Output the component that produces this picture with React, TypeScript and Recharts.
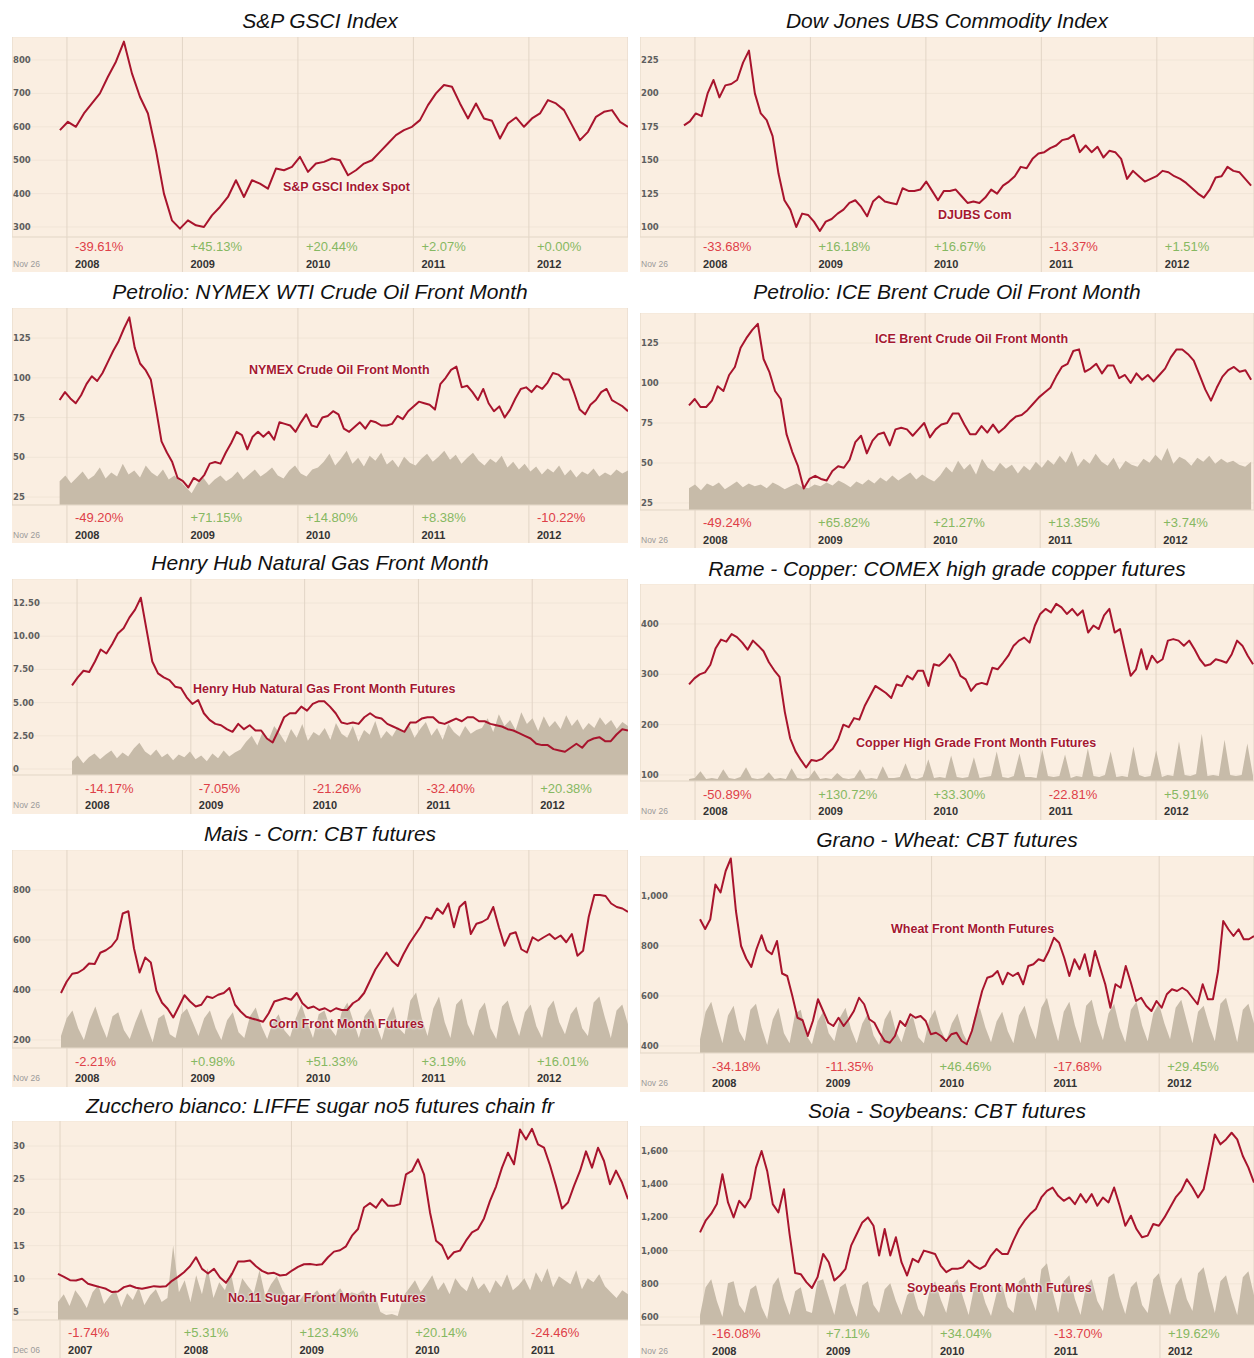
import React from 'react';
import { ComposedChart, Line, Area, XAxis, YAxis, CartesianGrid } from 'recharts';

// ---------- DATA ----------
const years0812 = ['2008', '2009', '2010', '2011', '2012'];
const years0711 = ['2007', '2008', '2009', '2010', '2011'];
const yearTicks = [0, 12, 24, 36, 48];

const gsciLine = [590,615,600,640,670,700,750,795,855,760,690,640,530,400,320,295,320,305,300,335,360,390,440,390,440,430,415,475,470,480,510,465,490,495,505,500,455,470,490,500,525,550,575,590,600,620,665,700,725,720,670,625,670,625,618,565,610,628,600,625,640,680,670,650,605,560,585,630,645,650,615,600];
const gsciChange = ['-39.61%', '+45.13%', '+20.44%', '+2.07%', '+0.00%'];

const djubsLine = [176,179,185,183,200,210,197,206,207,210,223,232,200,185,180,168,140,120,113,100,110,109,104,97,104,106,110,113,118,120,115,108,119,123,119,118,117,129,127,127,128,134,127,120,127,127,128,123,118,119,118,122,128,125,131,134,138,145,144,151,155,156,159,161,165,166,169,156,161,156,160,152,157,156,151,136,142,138,134,136,138,142,141,138,136,133,129,125,122,128,137,138,145,142,141,136,131];
const djubsChange = ['-33.68%', '+16.18%', '+16.67%', '-13.37%', '+1.51%'];

const wtiLine = [86,91,87,84,89,96,101,98,103,110,117,123,131,138,119,109,105,99,80,60,53,47,37,35,31,37,35,39,46,47,46,53,59,66,64,55,63,66,63,66,61,72,71,70,66,72,77,70,69,75,76,79,77,68,66,69,72,68,73,72,70,70,71,76,74,79,82,85,84,83,80,96,100,105,107,94,95,91,86,93,84,79,82,75,80,87,93,94,91,95,93,97,103,102,99,99,90,80,77,83,86,91,93,86,84,82,79];
const wtiVolume = [24,30,22,28,34,26,30,38,27,33,29,42,31,35,28,40,33,29,36,26,30,24,18,12,22,28,20,26,30,24,28,34,26,31,36,29,33,38,30,27,35,40,32,29,36,38,44,52,40,47,55,42,48,39,50,45,53,41,46,38,49,43,40,47,52,44,49,55,46,51,42,48,53,45,40,47,43,50,38,44,36,42,34,39,31,37,33,40,30,36,28,34,31,37,29,33,30,36,32,35];
const wtiChange = ['-49.20%', '+71.15%', '+14.80%', '+8.38%', '-10.22%'];

const brentLine = [86,90,85,85,89,98,95,105,110,122,128,133,137,115,107,95,90,68,57,48,34,40,42,40,39,45,48,47,52,63,67,56,64,68,69,61,71,72,71,67,71,75,66,71,74,75,81,81,74,68,68,73,69,74,69,72,76,79,80,83,87,91,94,97,104,110,112,120,121,107,109,112,106,111,111,103,105,100,106,102,105,101,105,109,116,121,121,118,114,105,96,89,97,104,108,110,107,108,102];
const brentVolume = [22,26,20,27,24,28,21,25,29,23,27,24,26,22,28,25,21,24,27,23,22,26,24,28,25,30,27,23,29,26,31,27,33,29,35,30,34,38,31,36,32,29,35,44,38,50,41,47,36,52,43,39,48,42,46,37,45,40,49,43,51,46,55,48,60,44,52,47,57,49,45,53,41,50,46,44,52,48,56,50,63,47,54,51,45,53,49,55,47,52,48,50,46,44,49];
const brentChange = ['-49.24%', '+65.82%', '+21.27%', '+13.35%', '+3.74%'];

const gasLine = [6.3,6.9,7.4,7.3,8.1,9.0,8.7,9.4,10.2,10.6,11.4,12.0,12.9,10.5,8.1,7.2,6.9,6.7,6.2,6.1,5.4,4.9,5.2,4.2,3.7,3.4,3.3,3.0,2.8,3.4,3.0,3.3,2.9,2.9,2.3,2.0,2.9,3.9,4.2,4.2,4.7,4.4,4.9,5.1,5.1,4.7,4.2,3.5,3.4,3.5,3.4,3.9,4.2,3.9,3.8,3.4,3.2,3.0,2.8,3.5,3.5,3.8,3.9,3.9,3.5,3.4,3.6,3.8,3.6,3.9,3.9,3.6,3.6,3.4,3.3,3.2,3.0,2.9,2.7,2.5,2.3,1.9,1.8,1.8,1.5,1.4,1.3,1.6,1.9,1.6,2.1,2.3,2.4,2.1,2.1,2.6,3.0,2.9];
const gasVolume = [14,20,12,18,22,16,21,25,17,23,19,27,33,24,20,26,18,22,15,21,18,24,16,20,14,22,17,25,19,23,26,34,40,30,45,36,50,42,33,47,38,52,35,44,40,48,36,53,42,38,50,34,46,41,55,37,45,39,49,43,51,38,47,54,40,48,36,52,44,39,50,42,46,48,58,44,62,50,56,46,64,52,58,45,60,49,55,47,61,50,57,46,53,48,59,51,56,47,54,50];
const gasChange = ['-14.17%', '-7.05%', '-21.26%', '-32.40%', '+20.38%'];

const copperLine = [280,292,300,304,319,352,369,365,380,374,363,349,367,357,346,324,308,295,225,173,147,130,115,130,128,132,143,152,170,200,195,213,210,237,257,277,270,263,253,280,277,297,290,307,307,277,320,317,327,340,323,297,290,267,280,283,280,313,310,323,337,357,367,373,363,397,420,430,423,440,433,420,430,417,427,383,397,390,417,430,383,390,343,297,310,350,310,337,323,330,367,370,367,357,367,350,330,317,320,330,327,323,340,367,357,337,320];
const copperVolume = [2,3,10,2,3,2,12,3,2,4,14,3,2,3,9,2,3,2,13,3,2,3,11,2,3,2,8,3,2,3,12,2,3,2,15,3,3,4,18,3,2,4,22,3,4,3,26,4,3,4,24,3,4,5,30,4,3,5,28,4,4,3,32,5,4,5,27,3,5,4,33,5,4,6,30,4,5,4,35,6,4,5,31,4,6,5,40,6,5,7,48,5,6,5,42,6,5,6,38,5];
const copperChange = ['-50.89%', '+130.72%', '+33.30%', '-22.81%', '+5.91%'];

const cornLine = [388,433,465,469,483,506,504,549,559,575,604,706,715,567,470,530,510,397,349,325,290,334,379,354,334,341,374,368,381,388,408,341,314,293,286,280,273,307,354,361,368,361,388,347,327,334,320,327,314,327,320,320,347,361,388,435,482,516,550,516,496,543,584,618,651,692,685,726,705,746,651,732,753,624,665,672,685,732,651,577,624,631,563,550,611,597,611,624,604,618,591,624,537,557,692,780,780,776,746,732,726,712];
const cornVolume = [12,30,38,20,8,28,42,24,10,32,36,18,9,26,40,22,6,30,34,14,10,34,40,26,12,30,38,20,8,28,36,16,10,32,41,22,9,26,34,18,11,30,44,26,10,34,38,20,12,36,46,28,10,32,40,24,8,30,42,20,14,48,56,30,12,40,52,26,10,44,50,24,12,38,46,20,9,42,48,28,12,36,44,22,10,40,48,26,14,34,42,20,12,46,52,30,10,38,44,24];
const cornChange = ['-2.21%', '+0.98%', '+51.33%', '+3.19%', '+16.01%'];

const wheatLine = [907,868,907,1046,1014,1100,1150,940,800,750,716,787,843,783,767,820,690,680,600,513,503,440,500,587,540,493,480,513,480,507,540,593,567,507,493,453,420,413,440,500,480,527,513,520,500,447,453,440,420,447,453,420,407,460,540,620,673,680,700,647,693,680,693,647,720,727,747,740,780,833,813,753,680,747,707,767,680,780,713,647,553,647,633,720,653,580,593,560,540,580,553,607,627,620,633,620,593,567,647,587,587,700,900,867,840,867,827,827,840];
const wheatVolume = [14,42,52,30,10,38,48,22,12,44,50,26,8,34,46,20,10,40,44,18,9,32,42,20,12,36,46,24,10,30,40,18,8,34,44,22,11,30,38,16,10,34,44,24,12,30,40,20,9,36,46,26,11,32,42,22,10,38,48,28,14,46,56,32,12,42,52,28,10,48,54,30,13,40,50,26,11,44,52,28,12,40,50,30,14,46,54,32,10,42,48,28,12,50,56,34,11,44,50,30];
const wheatChange = ['-34.18%', '-11.35%', '+46.46%', '-17.68%', '+29.45%'];

const sugarLine = [10.75,10.3,9.8,9.75,10.0,9.25,9.0,8.75,8.5,8.0,8.1,8.75,9.0,8.65,8.5,8.7,8.9,8.8,8.9,9.7,10.3,11.0,11.9,13.25,11.5,10.8,11.5,10.2,9.4,10.75,12.6,12.6,12.75,11.9,11.2,10.8,10.9,10.5,10.6,11.25,11.8,12.2,12.25,12.1,12.2,13.25,14.1,14.3,14.9,16.5,17.5,20.75,21.4,20.7,22.0,21.0,21.0,21.25,25.75,26.25,28.0,25.75,20.0,15.75,15.0,13.0,14.0,14.25,15.75,17.0,17.5,19.1,21.75,23.9,26.75,29.0,27.25,32.5,31.0,32.6,30.25,29.75,27.1,24.0,20.6,21.5,24.0,26.25,29.2,26.75,29.75,27.75,24.25,26.3,24.5,22.0];
const sugarVolume = [18,26,14,30,22,12,28,35,16,24,30,13,27,20,33,15,25,31,18,22,75,28,40,18,45,26,52,22,38,30,48,20,42,34,27,50,24,36,44,30,22,26,20,28,24,30,21,27,25,32,23,28,26,30,22,27,8,5,6,4,24,32,40,28,36,45,30,38,26,42,34,29,44,31,37,27,40,33,46,30,35,42,30,48,38,52,33,44,40,36,50,31,42,38,46,34,28,22,30,26];
const sugarChange = ['-1.74%', '+5.31%', '+123.43%', '+20.14%', '-24.46%'];

const soyLine = [1110,1180,1222,1280,1460,1290,1200,1300,1260,1316,1500,1600,1480,1280,1230,1370,1100,865,858,810,775,840,980,930,820,850,890,1030,1100,1170,1200,1150,970,1130,970,1080,930,850,950,930,1000,990,980,910,870,890,890,900,940,910,890,910,970,1010,980,980,1060,1130,1180,1220,1250,1320,1360,1380,1330,1300,1320,1280,1340,1290,1340,1270,1320,1290,1380,1270,1150,1210,1130,1080,1090,1160,1150,1200,1260,1320,1360,1430,1380,1320,1370,1530,1700,1640,1670,1710,1670,1570,1500,1410];
const soyVolume = [10,38,46,24,8,42,44,20,12,36,40,18,6,40,48,26,10,34,38,14,12,44,46,28,10,38,42,22,8,40,44,20,12,36,42,24,10,30,36,16,8,34,44,26,12,40,46,28,10,38,42,22,9,32,40,18,12,44,48,30,14,56,62,34,12,44,50,26,10,40,46,24,14,48,52,28,11,38,44,20,12,46,52,30,10,40,48,26,14,52,58,34,12,44,50,28,10,48,54,30];
const soyChange = ['-16.08%', '+7.11%', '+34.04%', '-13.70%', '+19.62%'];

// ---------- STYLE ----------
const RED = '#a8142d';
const BG = '#faeee1';
const VOL = '#c7bba9';
const NEG = '#de4048';
const POS = '#86b862';
const SANS = "'Liberation Sans', Arial, sans-serif";

interface Panel {
  title: string; titleY: number;
  left: number; width: number; top: number; base: number; bottom: number;
  xDomain: [number, number]; span: [number, number];
  line: number[]; volume?: number[];
  yTicks: number[]; yLabels: string[]; yDomain: [number, number];
  changes: string[]; years: string[]; start: string;
  note: string; noteX: number; noteY: number;
}

const L1 = 12, W1 = 616, L2 = 640, W2 = 614;

const panels: Panel[] = [
  { title: 'S&P GSCI Index', titleY: 21, left: L1, width: W1, top: 37, base: 237, bottom: 272,
    xDomain: [-5.71, 58.3], span: [-0.73, 58.3], line: gsciLine,
    yTicks: [300, 400, 500, 600, 700, 800], yLabels: ['300', '400', '500', '600', '700', '800'], yDomain: [270.1, 868.9],
    changes: gsciChange, years: years0812, start: 'Nov 26', note: 'S&P GSCI Index Spot', noteX: 283, noteY: 187 },
  { title: 'Dow Jones UBS Commodity Index', titleY: 21, left: L2, width: W2, top: 37, base: 237, bottom: 272,
    xDomain: [-5.71, 58.1], span: [-1.14, 57.8], line: djubsLine,
    yTicks: [100, 125, 150, 175, 200, 225], yLabels: ['100', '125', '150', '175', '200', '225'], yDomain: [92.5, 242.2],
    changes: djubsChange, years: years0812, start: 'Nov 26', note: 'DJUBS Com', noteX: 938, noteY: 215 },
  { title: 'Petrolio: NYMEX WTI Crude Oil Front Month', titleY: 292, left: L1, width: W1, top: 308, base: 505, bottom: 543,
    xDomain: [-5.71, 58.3], span: [-0.76, 58.3], line: wtiLine, volume: wtiVolume,
    yTicks: [25, 50, 75, 100, 125], yLabels: ['25', '50', '75', '100', '125'], yDomain: [20.0, 143.9],
    changes: wtiChange, years: years0812, start: 'Nov 26', note: 'NYMEX Crude Oil Front Month', noteX: 249, noteY: 370 },
  { title: 'Petrolio: ICE Brent Crude Oil Front Month', titleY: 292, left: L2, width: W2, top: 313, base: 510, bottom: 548,
    xDomain: [-5.74, 58.3], span: [-0.63, 58.0], line: brentLine, volume: brentVolume,
    yTicks: [25, 50, 75, 100, 125], yLabels: ['25', '50', '75', '100', '125'], yDomain: [20.6, 143.75],
    changes: brentChange, years: years0812, start: 'Nov 26', note: 'ICE Brent Crude Oil Front Month', noteX: 875, noteY: 339 },
  { title: 'Henry Hub Natural Gas Front Month', titleY: 563, left: L1, width: W1, top: 579, base: 775, bottom: 814,
    xDomain: [-6.86, 58.1], span: [-0.53, 58.1], line: gasLine, volume: gasVolume,
    yTicks: [0, 2.5, 5, 7.5, 10, 12.5], yLabels: ['0', '2.50', '5.00', '7.50', '10.00', '12.50'], yDomain: [-0.45, 14.31],
    changes: gasChange, years: years0812, start: 'Nov 26', note: 'Henry Hub Natural Gas Front Month Futures', noteX: 193, noteY: 689 },
  { title: 'Rame - Copper: COMEX high grade copper futures', titleY: 569, left: L2, width: W2, top: 584, base: 781, bottom: 820,
    xDomain: [-5.73, 58.2], span: [-0.62, 58.1], line: copperLine, volume: copperVolume,
    yTicks: [100, 200, 300, 400], yLabels: ['100', '200', '300', '400'], yDomain: [88.1, 479.5],
    changes: copperChange, years: years0812, start: 'Nov 26', note: 'Copper High Grade Front Month Futures', noteX: 856, noteY: 743 },
  { title: 'Mais - Corn: CBT futures', titleY: 834, left: L1, width: W1, top: 850, base: 1048, bottom: 1087,
    xDomain: [-5.71, 58.3], span: [-0.62, 58.3], line: cornLine, volume: cornVolume,
    yTicks: [200, 400, 600, 800], yLabels: ['200', '400', '600', '800'], yDomain: [168, 960],
    changes: cornChange, years: years0812, start: 'Nov 26', note: 'Corn Front Month Futures', noteX: 269, noteY: 1024 },
  { title: 'Grano - Wheat: CBT futures', titleY: 840, left: L2, width: W2, top: 856, base: 1053, bottom: 1092,
    xDomain: [-6.75, 58.0], span: [-0.42, 58.0], line: wheatLine, volume: wheatVolume,
    yTicks: [400, 600, 800, 1000], yLabels: ['400', '600', '800', '1,000'], yDomain: [372, 1160],
    changes: wheatChange, years: years0812, start: 'Nov 26', note: 'Wheat Front Month Futures', noteX: 891, noteY: 929 },
  { title: 'Zucchero bianco: LIFFE sugar no5 futures chain fr', titleY: 1106, left: L1, width: W1, top: 1121, base: 1320, bottom: 1358,
    xDomain: [-4.98, 58.9], span: [-0.21, 58.9], line: sugarLine, volume: sugarVolume,
    yTicks: [5, 10, 15, 20, 25, 30], yLabels: ['5', '10', '15', '20', '25', '30'], yDomain: [3.8, 33.77],
    changes: sugarChange, years: years0711, start: 'Dec 06', note: 'No.11 Sugar Front Month Futures', noteX: 228, noteY: 1298 },
  { title: 'Soia - Soybeans: CBT futures', titleY: 1111, left: L2, width: W2, top: 1126, base: 1325, bottom: 1359,
    xDomain: [-6.74, 57.9], span: [-0.42, 57.9], line: soyLine, volume: soyVolume,
    yTicks: [600, 800, 1000, 1200, 1400, 1600], yLabels: ['600', '800', '1,000', '1,200', '1,400', '1,600'], yDomain: [551.8, 1750.6],
    changes: soyChange, years: years0812, start: 'Nov 26', note: 'Soybeans Front Month Futures', noteX: 907, noteY: 1288 },
];

const toSeries = (vals: number[], span: [number, number]) =>
  vals.map((v, i) => ({ t: span[0] + (i * (span[1] - span[0])) / (vals.length - 1), v }));

function XTick(props: any) {
  const { x, payload, cfg, plotH, h } = props;
  const i = yearTicks.indexOf(payload.value);
  if (i < 0) return null;
  const pct: string = cfg.changes[i];
  const yearY = Math.min(h - 8.5, plotH + 30);
  return (
    <g>
      <line x1={x} x2={x} y1={plotH} y2={h} stroke="#e2d5c6" strokeWidth={1} />
      <text x={x + 8} y={yearY - 17} dominantBaseline="central" fill={pct.startsWith('-') ? NEG : POS}
        fontSize={13} fontFamily={SANS}>{pct}</text>
      <text x={x + 8} y={yearY} dominantBaseline="central" fill="#333" fontSize={11}
        fontWeight="bold" fontFamily={SANS}>{cfg.years[i]}</text>
    </g>
  );
}

function YTick(props: any) {
  const { y, payload, cfg } = props;
  const i = cfg.yTicks.indexOf(payload.value);
  if (i < 0) return null;
  return (
    <text x={1} y={y} dominantBaseline="central" fill="#5e5e5e" fontSize={8.5} fontWeight="bold"
      fontFamily="'DejaVu Sans', sans-serif">{cfg.yLabels[i]}</text>
  );
}

function ChartPanel({ cfg }: { cfg: Panel }) {
  const h = cfg.bottom - cfg.top;
  const plotH = cfg.base - cfg.top;
  const lineData = toSeries(cfg.line, cfg.span);
  const volData = cfg.volume ? toSeries(cfg.volume, cfg.span) : null;
  return (
    <>
      <div style={{ position: 'absolute', left: cfg.left, top: cfg.top, width: cfg.width, height: h, background: BG }} />
      <div style={{ position: 'absolute', left: cfg.left, width: cfg.width, top: cfg.titleY - 12, height: 24, lineHeight: '24px',
        textAlign: 'center', fontFamily: SANS, fontStyle: 'italic', fontSize: 21, color: '#111', whiteSpace: 'nowrap' }}>{cfg.title}</div>
      <div style={{ position: 'absolute', left: cfg.left, top: cfg.top }}>
        <ComposedChart width={cfg.width} height={h} margin={{ top: 0, right: 0, bottom: 0, left: 0 }}>
          <CartesianGrid yAxisId="p" horizontal vertical={false} stroke="#f1e5d7" />
          <CartesianGrid yAxisId="p" horizontal={false} vertical stroke="#e2d5c6" />
          <XAxis type="number" dataKey="t" domain={cfg.xDomain} allowDataOverflow ticks={yearTicks} interval={0}
            height={h - plotH} tickLine={false} axisLine={{ stroke: '#e6dacb' }}
            tick={(p: any) => <XTick {...p} cfg={cfg} plotH={plotH} h={h} />} />
          <YAxis yAxisId="p" type="number" domain={cfg.yDomain} allowDataOverflow ticks={cfg.yTicks} interval={0}
            mirror width={40} tickLine={false} axisLine={false}
            tick={(p: any) => <YTick {...p} cfg={cfg} />} />
          <YAxis yAxisId="v" type="number" domain={[0, 200]} hide />
          {volData && (
            <Area yAxisId="v" data={volData} dataKey="v" type="linear" stroke="none" fill={VOL} fillOpacity={1}
              baseValue={0} dot={false} activeDot={false} isAnimationActive={false} />
          )}
          <Line yAxisId="p" data={lineData} dataKey="v" type="linear" stroke={RED} strokeWidth={2}
            strokeLinejoin="round" dot={false} activeDot={false} isAnimationActive={false} />
        </ComposedChart>
      </div>
      <div style={{ position: 'absolute', left: cfg.noteX, top: cfg.noteY - 8, height: 16, lineHeight: '16px',
        fontFamily: SANS, fontWeight: 'bold', fontSize: 12.5, color: '#a5182f', whiteSpace: 'nowrap',
        textShadow: '0 0 2px #fff, 0 0 3px #fff' }}>{cfg.note}</div>
      <div style={{ position: 'absolute', left: cfg.left + 1, top: Math.min(cfg.bottom - 14, cfg.base + 24), height: 12, lineHeight: '12px',
        fontFamily: SANS, fontSize: 8.5, color: '#9a9a9a', whiteSpace: 'nowrap' }}>{cfg.start}</div>
    </>
  );
}

export default function App() {
  return (
    <div style={{ position: 'absolute', left: 0, top: 0, width: 1254, height: 1358, background: '#fff', overflow: 'hidden' }}>
      {panels.map((p) => <ChartPanel key={p.title} cfg={p} />)}
    </div>
  );
}
